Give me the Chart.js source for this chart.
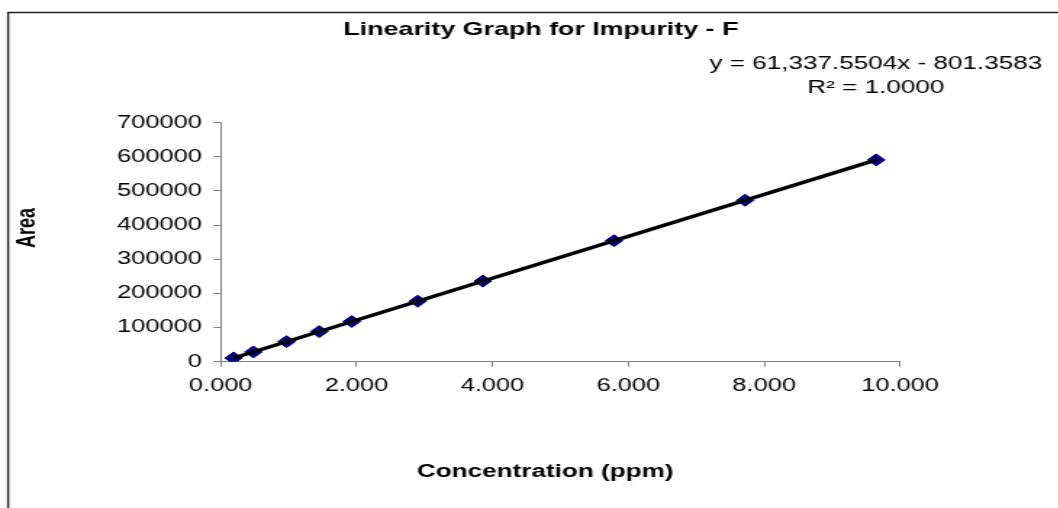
<!DOCTYPE html>
<html>
<head>
<meta charset="utf-8">
<script src="https://cdn.jsdelivr.net/npm/chart.js@4.4.1/dist/chart.umd.min.js"></script>
<style>
  html, body { margin: 0; padding: 0; background: #fff; overflow: hidden; }
  /* the reference is a horizontally stretched Excel export, so stretch the canvas the same way */
  #wrap { width: 730px; height: 508px; transform: scaleX(1.45); transform-origin: 0 0; }
</style>
</head>
<body>
<div id="wrap"><canvas id="linChart" width="730" height="508"></canvas></div>
<script>
// Concentration (ppm) and peak area
const concentration = [0.19, 0.48, 0.97, 1.45, 1.93, 2.90, 3.86, 5.79, 7.72, 9.65];
const area = [10900, 28600, 58700, 88100, 117600, 177100, 236000, 354300, 472700, 591100];

const xTicks = [0, 2, 4, 6, 8, 10];
const yTicks = [0, 100000, 200000, 300000, 400000, 500000, 600000, 700000];

// regression shown on the chart
const slope = 61337.5504;
const intercept = -801.3583;
const titleText = 'Linearity Graph for Impurity - F';
const equationText = 'y = 61,337.5504x - 801.3583';
const r2Text = 'R\u00B2 = 1.0000';
const xTitle = 'Concentration (ppm)';
const yTitle = 'Area';

const FONT = 'Arial, "Liberation Sans", sans-serif';

const xMin = Math.min(...concentration);
const xMax = Math.max(...concentration);
const trend = [
    { x: xMin, y: slope * xMin + intercept },
    { x: xMax, y: slope * xMax + intercept }
];

const frameAndText = {
    id: 'frameAndText',
    beforeDraw(chart) {
        const ctx = chart.ctx;
        ctx.save();
        ctx.fillStyle = '#fff';
        ctx.fillRect(0, 0, chart.width, chart.height);
        // chart frame (only top and left edge fall inside the picture)
        ctx.strokeStyle = '#222';
        ctx.lineWidth = 1.4;
        ctx.beginPath();
        ctx.moveTo(5.6, chart.height + 2);
        ctx.lineTo(5.6, 12.5);
        ctx.lineTo(chart.width + 2, 12.5);
        ctx.stroke();
        ctx.restore();
    },
    afterDraw(chart) {
        const ctx = chart.ctx;
        ctx.save();
        ctx.fillStyle = '#000';
        ctx.textAlign = 'center';
        ctx.textBaseline = 'middle';

        ctx.font = 'bold 18.5px ' + FONT;
        ctx.fillText(titleText, 373, 30);

        ctx.font = '18px ' + FONT;
        ctx.fillText(equationText, 604, 64);
        ctx.fillText(r2Text, 604, 88.5);

        ctx.font = 'bold 18px ' + FONT;
        ctx.fillText(xTitle, 376, 472);

        ctx.translate(19, 228);
        ctx.rotate(-Math.PI / 2);
        ctx.fillText(yTitle, 0, 0);
        ctx.restore();
    }
};

new Chart(document.getElementById('linChart'), {
    type: 'scatter',
    data: {
        datasets: [{
            label: 'Trendline',
            data: trend,
            showLine: true,
            borderColor: '#000',
            borderWidth: 3.5,
            pointRadius: 0,
            fill: false
        }, {
            label: 'Area',
            data: concentration.map((c, i) => ({ x: c, y: area[i] })),
            pointStyle: 'rectRot',
            pointRadius: 6,
            backgroundColor: '#000080',
            borderColor: '#000080',
            borderWidth: 1
        }]
    },
    options: {
        responsive: false,
        animation: false,
        devicePixelRatio: 1,
        layout: { padding: { top: 122.7, right: 109.3, left: 0, bottom: 0 } },
        plugins: {
            legend: { display: false },
            tooltip: { enabled: false },
            title: { display: false }
        },
        scales: {
            x: {
                type: 'linear',
                min: 0,
                max: 10,
                afterFit: s => { s.height = 146.3; },
                afterBuildTicks: s => { s.ticks = xTicks.map(v => ({ value: v })); },
                grid: { display: true, drawOnChartArea: false, tickLength: 5, color: '#808080' },
                border: { color: '#808080', width: 1 },
                ticks: {
                    padding: 9,
                    color: '#000',
                    font: { family: FONT, size: 17.5 },
                    callback: v => Number(v).toFixed(3)
                }
            },
            y: {
                type: 'linear',
                min: 0,
                max: 700000,
                afterFit: s => { s.width = 152.2; },
                afterBuildTicks: s => { s.ticks = yTicks.map(v => ({ value: v })); },
                grid: { display: true, drawOnChartArea: false, tickLength: 5, color: '#808080' },
                border: { color: '#808080', width: 1 },
                ticks: {
                    padding: 8,
                    color: '#000',
                    font: { family: FONT, size: 17.5 },
                    callback: v => String(v)
                }
            }
        }
    },
    plugins: [frameAndText]
});
</script>
</body>
</html>
